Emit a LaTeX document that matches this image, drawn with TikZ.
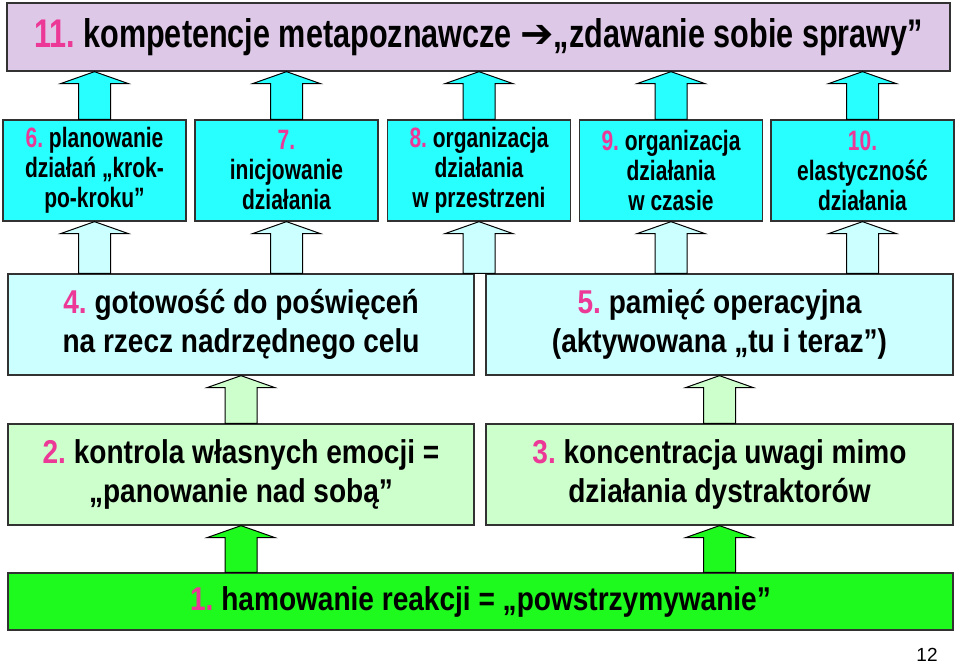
\documentclass[tikz,border=0pt]{standalone}
\usepackage{fontspec}
\setmainfont{Liberation Sans}
\newfontfamily\titlefont{Liberation Sans}[FakeStretch=0.765]
\newfontfamily\rowfont{Liberation Sans}[FakeStretch=0.75]
\newfontfamily\midfont{Liberation Sans}[FakeStretch=0.85]
\newfontfamily\symfont{DejaVu Sans}
\usetikzlibrary{calc}
\frenchspacing

\definecolor{lavender}{RGB}{222,200,232}
\definecolor{cyanbox}{RGB}{40,255,255}
\definecolor{lightcyan}{RGB}{204,255,255}
\definecolor{lightgreen}{RGB}{204,255,204}
\definecolor{greenbox}{RGB}{30,250,30}
\definecolor{numpink}{RGB}{236,56,150}
\definecolor{boxline}{RGB}{50,50,50}

\tikzset{
  box/.style={draw=boxline, line width=1.3pt, inner sep=0pt, align=center},
  rowbox/.style={box, fill=cyanbox, minimum width=183pt, minimum height=101pt,
    font=\rowfont\bfseries\fontsize{28}{30}\selectfont},
  midbox/.style={box, minimum width=466pt, minimum height=101pt,
    font=\midfont\bfseries\fontsize{33}{39}\selectfont},
  arrowline/.style={draw=black, line width=1pt, line join=miter},
}
\newcommand{\nr}[1]{\textcolor{numpink}{#1}}
% flat block arrow: fill, foot, tip
\newcommand{\blockarrow}[3]{%
  \filldraw[arrowline, fill=#1]
    ($(#2)+(-16,0)$) -- ($(#3)+(-16,12)$) -- ($(#3)+(-34,12)$) -- (#3)
    -- ($(#3)+(34,12)$) -- ($(#3)+(16,12)$) -- ($(#2)+(16,0)$) -- cycle;}

\begin{document}
\begin{tikzpicture}[x=1pt, y=-1pt]
	\useasboundingbox (0,0) rectangle (959,664);
	% top level
	\node[box, fill=lavender, minimum width=943pt, minimum height=68pt,
	  font=\titlefont\bfseries\fontsize{40}{42}\selectfont] (top) at (478.5,37)
	  {\nr{11.} kompetencje metapoznawcze {\symfont\bfseries\fontsize{40}{40}\selectfont ➔}„zdawanie sobie sprawy”};
	% row of five
	\node[rowbox] (b6) at (94.5,170.5) {\nr{6.} planowanie\\działań „krok-\\po-kroku”};
	\node[rowbox] (b7) at (286.5,170.5) {\nr{7.}\\inicjowanie\\działania};
	\node[rowbox] (b8) at (479,170.5) {\nr{8.} organizacja\\działania\\w przestrzeni};
	\node[rowbox] (b9) at (671,170.5) {\nr{9.} organizacja\\działania\\w czasie};
	\node[rowbox] (b10) at (862.5,170.5) {\nr{10.}\\elastyczność\\działania};
	% middle
	\node[midbox, fill=lightcyan] (m4) at (241,324.5) {\nr{4.} gotowość do poświęceń\\na rzecz nadrzędnego celu};
	\node[midbox, fill=lightcyan, minimum width=467pt] (m5) at (719.5,324.5) {\nr{5.} pamięć operacyjna\\(aktywowana „tu i teraz”)};
	\node[midbox, fill=lightgreen] (l2) at (241,474.5) {\nr{2.} kontrola własnych emocji =\\„panowanie nad sobą”};
	\node[midbox, fill=lightgreen, minimum width=467pt] (l3) at (719.5,474.5) {\nr{3.} koncentracja uwagi mimo\\działania dystraktorów};
	% base
	\node[midbox, fill=greenbox, minimum width=945pt, minimum height=57pt] (g1) at (480.5,601.5)
	  {\nr{1.} hamowanie reakcji = „powstrzymywanie”};
	\node[font=\fontsize{19}{19}\selectfont] (pg) at (927,655) {12};
	% arrows
	\foreach \b in {b6,b7,b8,b9,b10}
	  \blockarrow{cyanbox}{\b.north}{\b.north |- top.south};
	\foreach \b in {b6,b7,b8}
	  \blockarrow{lightcyan}{\b.south |- m4.north}{\b.south};
	\foreach \b in {b9,b10}
	  \blockarrow{lightcyan}{\b.south |- m5.north}{\b.south};
	\blockarrow{lightgreen}{l2.north}{m4.south};
	\blockarrow{lightgreen}{l3.north}{m5.south};
	\blockarrow{greenbox}{l2.south |- g1.north}{l2.south};
	\blockarrow{greenbox}{l3.south |- g1.north}{l3.south};
\end{tikzpicture}
\end{document}
